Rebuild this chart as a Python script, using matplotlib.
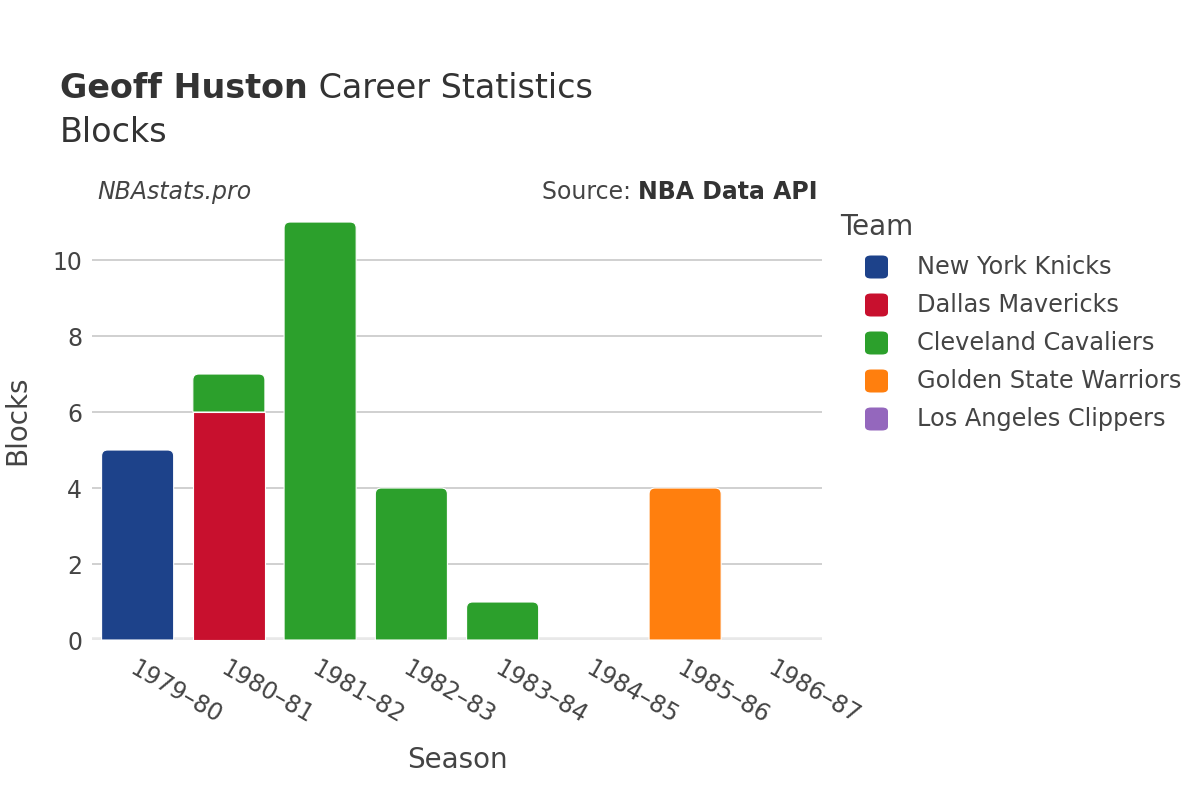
import matplotlib
matplotlib.use("Agg")
import matplotlib.pyplot as plt
from matplotlib.path import Path
from matplotlib.patches import PathPatch, FancyBboxPatch
import numpy as np

plt.rcParams['font.family'] = ['DejaVu Sans']

seasons = ["1979–80", "1980–81", "1981–82", "1982–83", "1983–84", "1984–85", "1985–86", "1986–87"]
teams = ["New York Knicks", "Dallas Mavericks", "Cleveland Cavaliers", "Golden State Warriors", "Los Angeles Clippers"]
colors = ["#1d428a", "#c8102e", "#2ca02c", "#ff7f0e", "#9467bd"]
knicks = [5, 0, 0, 0, 0, 0, 0, 0]
mavericks = [0, 6, 0, 0, 0, 0, 0, 0]
cavaliers = [0, 1, 11, 4, 1, 0, 0, 0]
warriors = [0, 0, 0, 0, 0, 0, 4, 0]
clippers = [0, 0, 0, 0, 0, 0, 0, 0]
series = [knicks, mavericks, cavaliers, warriors, clippers]
yticks = [0, 2, 4, 6, 8, 10]

fig = plt.figure(figsize=(12, 8), dpi=100)
W, H = 1200, 800
ax_l, ax_r, ax_t, ax_b = 92, 822, 200, 640
ax = fig.add_axes([ax_l / W, 1 - ax_b / H, (ax_r - ax_l) / W, (ax_b - ax_t) / H])
ymax = 11.58
ax.set_xlim(-0.5, 7.5)
ax.set_ylim(0, ymax)
for s in ax.spines.values():
    s.set_visible(False)
ax.set_yticks(yticks)
ax.grid(axis='y', color='#c8c8c8', linewidth=1.2)
ax.set_axisbelow(True)
ax.tick_params(axis='both', length=0, colors='#444444')
ax.tick_params(axis='y', pad=7, labelsize=17)
ax.axhline(0, color='#e8e8e8', linewidth=4, zorder=1)

px_x = (ax_r - ax_l) / 8.0
px_y = (ax_b - ax_t) / ymax
rad_px = 6
rx = rad_px / px_x
ry = rad_px / px_y
bw = 0.79


def bar_path(x0, x1, y0, y1, rounded):
    if not rounded or y1 - y0 <= 0:
        verts = [(x0, y0), (x0, y1), (x1, y1), (x1, y0), (x0, y0)]
        codes = [Path.MOVETO, Path.LINETO, Path.LINETO, Path.LINETO, Path.CLOSEPOLY]
        return Path(verts, codes)
    r_y = min(ry, (y1 - y0))
    verts = [(x0, y0), (x0, y1 - r_y), (x0, y1), (x0 + rx, y1),
             (x1 - rx, y1), (x1, y1), (x1, y1 - r_y), (x1, y0), (x0, y0)]
    codes = [Path.MOVETO, Path.LINETO, Path.CURVE3, Path.CURVE3,
             Path.LINETO, Path.CURVE3, Path.CURVE3, Path.LINETO, Path.CLOSEPOLY]
    return Path(verts, codes)


n = len(seasons)
totals = np.sum(np.array(series), axis=0)
for i in range(n):
    base = 0
    for k, vals in enumerate(series):
        v = vals[i]
        if v <= 0:
            continue
        top = base + v
        rounded = abs(top - totals[i]) < 1e-9
        p = bar_path(i - bw / 2, i + bw / 2, base, top, rounded)
        ax.add_patch(PathPatch(p, facecolor=colors[k], edgecolor='white', linewidth=0.8, zorder=3))
        base = top

ax.set_xticks(range(n))
ax.set_xticklabels(seasons, rotation=-30, ha='left', va='top', rotation_mode='anchor', fontsize=17)
ax.tick_params(axis='x', pad=12)

fig.text(17 / W, 1 - 420 / H, "Blocks", rotation=90, fontsize=20, color='#444444', ha='center', va='center')
fig.text(457 / W, 1 - 760 / H, "Season", fontsize=20, color='#444444', ha='center', va='center')

t1 = fig.text(60 / W, 1 - 89 / H, "Geoff Huston", fontsize=24, fontweight='bold', color='#333333', va='center', ha='left')
fig.canvas.draw()
bb = t1.get_window_extent()
fig.text(bb.x1 / W, 1 - 89 / H, " Career Statistics", fontsize=24, color='#333333', va='center', ha='left')
fig.text(60 / W, 1 - 132 / H, "Blocks", fontsize=24, color='#333333', va='center', ha='left')

fig.text(97 / W, 1 - 192 / H, "NBAstats.pro", fontsize=17, style='italic', color='#444444', va='center', ha='left')
t2 = fig.text(818 / W, 1 - 192 / H, "NBA Data API", fontsize=17, fontweight='bold', color='#333333', va='center', ha='right')
fig.canvas.draw()
bb2 = t2.get_window_extent()
fig.text(bb2.x0 / W, 1 - 192 / H, "Source: ", fontsize=17, color='#444444', va='center', ha='right')

fig.text(840 / W, 1 - 227 / H, "Team", fontsize=20, color='#444444', va='center', ha='left')
for k, t in enumerate(teams):
    yc = 267 + 38 * k
    box = FancyBboxPatch((865 / W, 1 - (yc + 11.5) / H), 23 / W, 23 / H,
                         boxstyle="round,pad=0,rounding_size=0.005",
                         transform=fig.transFigure, facecolor=colors[k], edgecolor='none')
    fig.patches.append(box)
    fig.text(917 / W, 1 - yc / H, t, fontsize=17.3, color='#444444', va='center', ha='left')

fig.savefig("out.png", dpi=100)
